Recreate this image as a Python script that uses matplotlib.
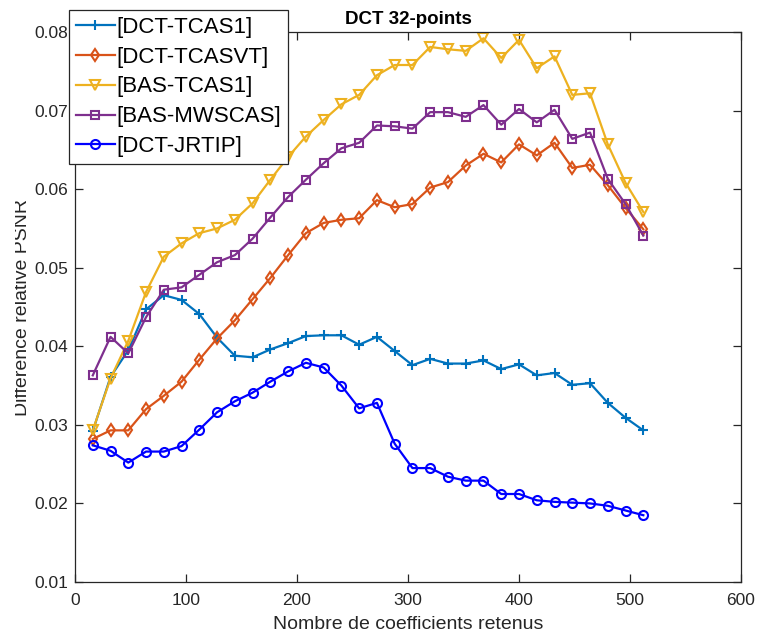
import matplotlib
matplotlib.use("Agg")
import matplotlib.pyplot as plt
from matplotlib.transforms import Bbox, TransformedBbox

plt.rcParams['font.family'] = ['Liberation Sans', 'DejaVu Sans']

# nombre de coefficients retenus (16, 32, ..., 512)
coefs = [16, 32, 48, 64, 80, 96, 112, 128, 144, 160, 176, 192, 208, 224, 240, 256,
         272, 288, 304, 320, 336, 352, 368, 384, 400, 416, 432, 448, 464, 480, 496, 512]

dct_tcas1 = [0.0292, 0.0361, 0.0395, 0.0447, 0.0465, 0.0459, 0.0441, 0.0411,
             0.0388, 0.0386, 0.0396, 0.0404, 0.0413, 0.0414, 0.0414, 0.0402,
             0.0412, 0.0394, 0.0376, 0.0384, 0.0378, 0.0378, 0.0382, 0.0371,
             0.0377, 0.0363, 0.0366, 0.0351, 0.0353, 0.0328, 0.0309, 0.0293]
dct_tcasvt = [0.0282, 0.0293, 0.0293, 0.0320, 0.0337, 0.0355, 0.0383, 0.0410,
              0.0433, 0.0460, 0.0487, 0.0516, 0.0544, 0.0557, 0.0561, 0.0563,
              0.0586, 0.0577, 0.0581, 0.0602, 0.0609, 0.0630, 0.0645, 0.0634,
              0.0657, 0.0643, 0.0659, 0.0627, 0.0631, 0.0605, 0.0576, 0.0549]
bas_tcas1 = [0.0293, 0.0359, 0.0407, 0.0469, 0.0514, 0.0531, 0.0544, 0.0550,
             0.0561, 0.0582, 0.0612, 0.0641, 0.0667, 0.0688, 0.0708, 0.0720,
             0.0745, 0.0758, 0.0758, 0.0781, 0.0778, 0.0776, 0.0792, 0.0767,
             0.0790, 0.0754, 0.0769, 0.0720, 0.0722, 0.0657, 0.0608, 0.0571]
bas_mwscas = [0.0363, 0.0412, 0.0391, 0.0437, 0.0472, 0.0475, 0.0491, 0.0507,
              0.0516, 0.0537, 0.0564, 0.0590, 0.0612, 0.0633, 0.0652, 0.0659,
              0.0681, 0.0680, 0.0677, 0.0698, 0.0698, 0.0692, 0.0707, 0.0682,
              0.0702, 0.0685, 0.0701, 0.0664, 0.0672, 0.0613, 0.0581, 0.0541]
dct_jrtip = [0.0274, 0.0267, 0.0252, 0.0266, 0.0266, 0.0273, 0.0294, 0.0316,
             0.0330, 0.0341, 0.0355, 0.0368, 0.0379, 0.0373, 0.0350, 0.0321,
             0.0328, 0.0276, 0.0245, 0.0245, 0.0234, 0.0229, 0.0229, 0.0212,
             0.0212, 0.0204, 0.0202, 0.0201, 0.0200, 0.0197, 0.0191, 0.0185]

labels = ['[DCT-TCAS1]', '[DCT-TCASVT]', '[BAS-TCAS1]', '[BAS-MWSCAS]', '[DCT-JRTIP]']
series = [dct_tcas1, dct_tcasvt, bas_tcas1, bas_mwscas, dct_jrtip]
couleurs = ['#0072BD', '#D95319', '#EDB120', '#7E2F8E', '#0000FF']
marqueurs = ['+', 'd', 'v', 's', 'o']
tailles = [7, 6, 7.5, 5.5, 6.5]

fig = plt.figure(figsize=(7.58, 6.37), dpi=100)
ax = fig.add_axes([75 / 758, 1 - 582 / 637, 666 / 758, 550 / 637])

for y, lab, c, m, ms in zip(series, labels, couleurs, marqueurs, tailles):
    ax.plot(coefs, y, color=c, marker=m, markersize=ms, linewidth=1.6,
            markerfacecolor='none', markeredgewidth=1.5, label=lab)

ax.set_xlim(0, 600)
ax.set_ylim(0.01, 0.08)
ax.set_xticks(range(0, 601, 100))
ax.set_yticks([0.01, 0.02, 0.03, 0.04, 0.05, 0.06, 0.07, 0.08])
ax.set_yticklabels(['0.01', '0.02', '0.03', '0.04', '0.05', '0.06', '0.07', '0.08'])

gris = '#262626'
for s in ax.spines.values():
    s.set_color(gris)
    s.set_linewidth(0.9)
ax.tick_params(direction='in', top=True, right=True, length=6, width=0.9,
               colors=gris, labelcolor=gris, labelsize=12.5)
ax.tick_params(axis='x', pad=8)
ax.tick_params(axis='y', pad=5)

ax.set_title('DCT 32-points', fontsize=13.5, fontweight='bold', pad=6)
ax.set_xlabel('Nombre de coefficients retenus', fontsize=14, labelpad=6, color=gris)
ylab = ax.set_ylabel('Difference relative PSNR', fontsize=14, color=gris)
ax.yaxis.set_label_coords((31 - 75) / 666, 0.5)
# l'étiquette est coupée à gauche comme dans l'original
ylab.set_clip_box(TransformedBbox(Bbox([[15 / 758, 0], [1, 1]]), fig.transFigure))
ylab.set_clip_on(True)

leg = ax.legend(loc='upper left', bbox_to_anchor=(69 / 758, 1 - 10 / 637),
                bbox_transform=fig.transFigure, borderaxespad=0, fontsize=16,
                fancybox=False, framealpha=1, edgecolor=gris, handlelength=1.75,
                handletextpad=0.1, labelspacing=0.4, borderpad=0.3)
leg.get_frame().set_linewidth(0.9)

fig.savefig('out.png', dpi=100)
